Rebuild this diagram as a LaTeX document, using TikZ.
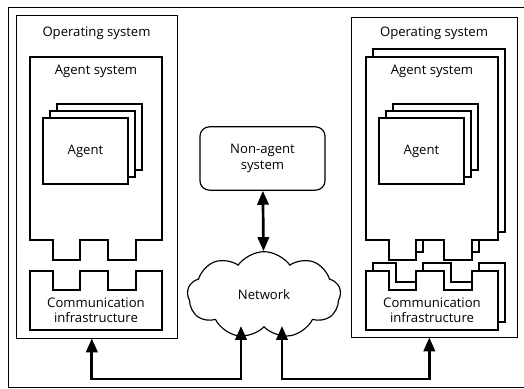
\documentclass[tikz,border=0pt]{standalone}
\usepackage{fontspec}
\setmainfont{Open Sans}
\usetikzlibrary{arrows.meta,calc,fit,shapes.symbols}
\tikzset{
  osbox/.style={draw, line width=0.6pt, inner sep=0pt},
  plain/.style={draw, fill=white, line width=1pt},
  lbl/.style={font=\fontsize{11.2}{13}\selectfont, align=center, inner sep=1pt},
  dbl/.style={{Triangle[length=4.2mm,width=3.4mm]}-{Triangle[length=4.2mm,width=3.4mm]}, line width=2.3pt},
}
% pieces of one agent platform, shifted as a whole
\newcommand\asys[1]{\draw[plain, shift={#1}] (30,57) -- (162,57) -- (162,240) -- (136,240) -- (136,260) -- (108,260)
  -- (108,240) -- (80,240) -- (80,260) -- (53,260) -- (53,240) -- (30,240) -- cycle;}
\newcommand\commbox[1]{\draw[plain, shift={#1}] (30,271) -- (53,271) -- (53,290) -- (80,290) -- (80,271) -- (108,271)
  -- (108,290) -- (136,290) -- (136,271) -- (162,271) -- (162,330) -- (30,330) -- cycle;}
\newcommand\agentbox[1]{\draw[plain, shift={#1}] (43,118) rectangle (128,184);}

\begin{document}
\begin{tikzpicture}[x=0.03cm, y=-0.03cm]
\useasboundingbox (0,0) rectangle (524,389);
\draw[line width=0.6pt] (524,7) -- (8,7) -- (8,387) -- (524,387);
% left platform
\node[osbox, fit={(16,15) (177,338)}] (osL) {};
\asys{(0,0)}
\commbox{(0,0)}
\agentbox{(14,-14)}
\agentbox{(7,-7)}
\agentbox{(0,0)}
\node[lbl] (osLt) at (96.5,33) {Operating system};
\node[lbl] (asLt) at (96,71) {Agent system};
\node[lbl] (agL) at (85.5,151) {Agent};
\node[lbl] (ciL) at (96,310) {Communication\\infrastructure};
% right platform
\node[osbox, fit={(351,17) (517,337)}] (osR) {};
\asys{(343,-8)}
\asys{(336,0)}
\commbox{(343,-8)}
\commbox{(336,0)}
\agentbox{(350,-14)}
\agentbox{(343,-7)}
\agentbox{(336,0)}
\node[lbl] (osRt) at (434,33) {Operating system};
\node[lbl] (asRt) at (432,71) {Agent system};
\node[lbl] (agR) at (421.5,151) {Agent};
\node[lbl] (ciR) at (432,310) {Communication\\infrastructure};
% middle
\node[plain, rounded corners=8pt, minimum width=3.75cm, minimum height=1.9cm, lbl] (nas) at (262.5,158.5) {Non-agent\\system};
\node[cloud, draw, line width=1pt, cloud puffs=9, cloud puff arc=110, aspect=1.9,
      minimum width=4.6cm, minimum height=2.6cm, inner sep=0pt, lbl] (net) at (264,295) {Network};
\coordinate (bus) at (0,379);
\draw[dbl] (nas) -- (net);
\draw[dbl] ([xshift=-0.14cm]osL.south) -- ([xshift=-0.14cm]osL.south |- bus) -| ([xshift=-0.69cm,yshift=0.05cm]net.south);
\draw[dbl] ([xshift=0.54cm,yshift=0.05cm]net.south) -- ([xshift=0.54cm]net.south |- bus) -| ([xshift=-0.14cm]osR.south);
\end{tikzpicture}
\end{document}
